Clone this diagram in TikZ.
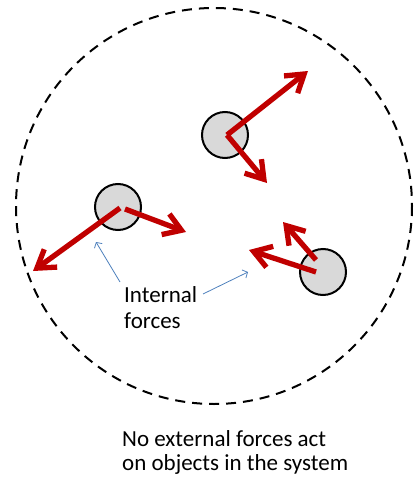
\documentclass[tikz,border=0pt]{standalone}
\usepackage{fontspec}
\setmainfont{Carlito}
\usetikzlibrary{arrows.meta}
\definecolor{fred}{HTML}{C00000}
\definecolor{lblue}{HTML}{4F81BD}
\definecolor{ballgray}{HTML}{D9D9D9}
\begin{document}
\begin{tikzpicture}[x=1pt,y=-1pt,
  ball/.style={circle,draw=black,line width=2pt,fill=ballgray,minimum size=46pt,inner sep=0pt},
  force/.style={draw=fred,line width=5.3pt,-{Straight Barb[length=17pt,width=22pt,line width=5.3pt]}},
  pointer/.style={draw=lblue,line width=0.8pt,-{Straight Barb[length=4pt,width=9pt,line width=0.8pt]}},
  lbl/.style={inner sep=0pt,anchor=base west,font=\fontsize{23}{26}\selectfont}]
\useasboundingbox (0,0) rectangle (413,479);
\draw[line width=2pt,dash pattern=on 10pt off 7pt] (214,206) circle[radius=198];
\node[ball] (b1) at (225,135) {};
\node[ball] (b2) at (118,207) {};
\node[ball] (b3) at (323,272) {};
\coordinate (f1a) at (308,71);
\coordinate (f1b) at (267,183);
\coordinate (f2a) at (33,271);
\coordinate (f2b) at (186,232);
\coordinate (f3a) at (283,222);
\coordinate (f3b) at (249,250);
\draw[force] (227,135) -- (f1a);
\draw[force] (227,135) -- (f1b);
\draw[force] (120,208) -- (f2a);
\draw[force] (125,209) -- (f2b);
\draw[force] (316,260) -- (f3a);
\draw[force] (316,272) -- (f3b);
\node[lbl] (int1) at (124,302) {Internal};
\node[lbl] (int2) at (124,328) {forces};
\coordinate (p1) at (96,242);
\coordinate (p2) at (248,272);
\draw[pointer] (120,282) -- (p1);
\draw[pointer] (203,294) -- (p2);
\node[lbl] (cap1) at (122,446) {No external forces act};
\node[lbl] (cap2) at (122,470) {on objects in the system};
\end{tikzpicture}
\end{document}
